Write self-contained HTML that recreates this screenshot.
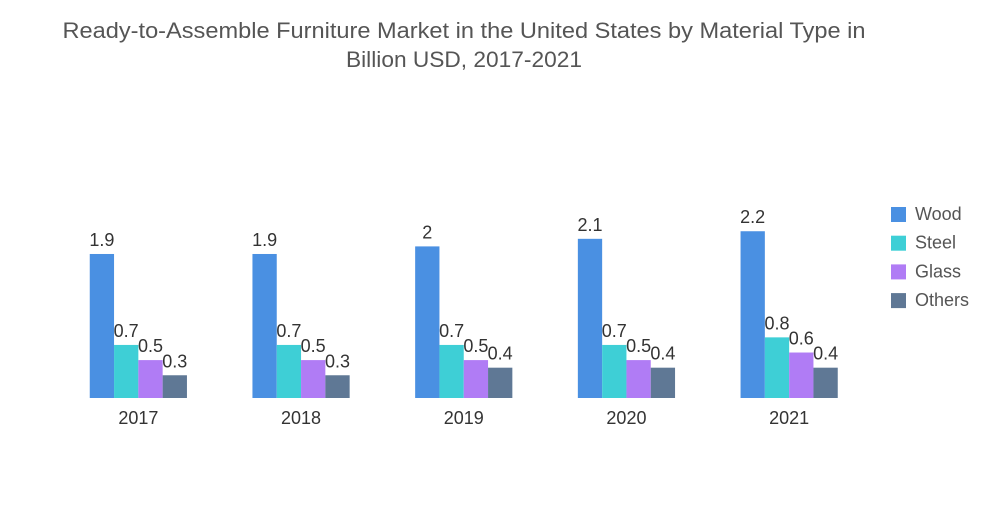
<!DOCTYPE html>
<html><head><meta charset="utf-8"><style>
body{margin:0;background:#fff;font-family:"Liberation Sans",sans-serif;}
svg text{font-family:"Liberation Sans",sans-serif;}
</style></head><body>
<svg id="c" width="1000" height="504">
<text x="464" y="38" text-anchor="middle" font-size="22" fill="#555" textLength="803" lengthAdjust="spacingAndGlyphs">Ready-to-Assemble Furniture Market in the United States by Material Type in</text>
<text x="464" y="67" text-anchor="middle" font-size="22" fill="#555" textLength="236" lengthAdjust="spacingAndGlyphs">Billion USD, 2017-2021</text>
<g id="bars"></g>
<g id="legend"></g>
</svg>
<script>
const categories=["2017","2018","2019","2020","2021"];
const seriesNames=["Wood","Steel","Glass","Others"];
const wood=[1.9,1.9,2,2.1,2.2];
const steel=[0.7,0.7,0.7,0.7,0.8];
const glass=[0.5,0.5,0.5,0.5,0.6];
const others=[0.3,0.3,0.4,0.4,0.4];
const series=[wood,steel,glass,others];
const colors=["#4a90e2","#3ecfd6","#b07cf5","#5f7895"];
const NS="http://www.w3.org/2000/svg";
const baseY=398, unit=75.8, x0=57, catW=162.7, barW=24.3;
const y=v=>baseY-v*unit;
const xc=i=>x0+catW*(i+0.5);
const g=document.getElementById('bars');
function mk(t,a){const e=document.createElementNS(NS,t);for(const k in a)e.setAttribute(k,a[k]);return e;}
categories.forEach((c,i)=>{
  const start=xc(i)-barW*2;
  series.forEach((s,j)=>{
    const r=mk('rect',{x:start+j*barW,y:y(s[i]),width:barW,height:s[i]*unit,fill:colors[j]});
    
    
    g.appendChild(r);
    const t=mk('text',{x:start+j*barW+barW/2,y:y(s[i])-8,'text-anchor':'middle','font-size':18,fill:'#333'});
    t.textContent=String(s[i]);
    
    
    g.appendChild(t);
  });
  const l=mk('text',{x:xc(i),y:424,'text-anchor':'middle','font-size':18,fill:'#333'});
  l.textContent=c;
  
  
  g.appendChild(l);
});
const lg=document.getElementById('legend');
seriesNames.forEach((n,j)=>{
  const r=mk('rect',{x:891,y:207+j*28.7,width:15,height:15,fill:colors[j]});
  
  
  lg.appendChild(r);
  const t=mk('text',{x:915,y:220+j*28.7,'font-size':18,fill:'#555'});
  t.textContent=n;
  
  
  lg.appendChild(t);
});
</script>
</body></html>
